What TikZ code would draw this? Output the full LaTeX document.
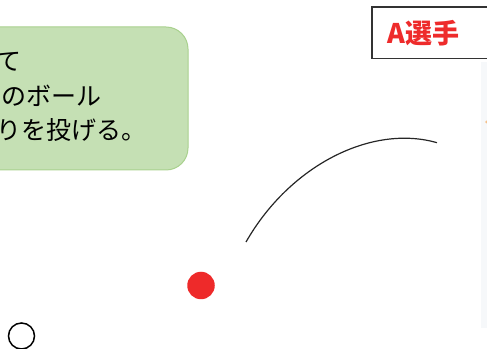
\documentclass[tikz,border=0pt]{standalone}
\usepackage{fontspec}
\newfontfamily\jp{Noto Sans CJK JP}
\definecolor{boxgreen}{HTML}{C5E0B4}
\definecolor{boxgreenline}{HTML}{A9D18E}
\definecolor{tred}{HTML}{EE2B2B}
\definecolor{dotred}{HTML}{EE2A2A}
\definecolor{frameline}{HTML}{333333}
\definecolor{faint}{HTML}{F6F8FA}
\definecolor{faintorange}{HTML}{F5C08A}
\tikzset{
  note/.style={draw=boxgreenline, fill=boxgreen, line width=1pt, rounded corners=22pt},
  notetext/.style={inner sep=0pt, anchor=base east, font=\jp\fontsize{25}{30}\selectfont, text=black},
  labelbox/.style={draw=frameline, fill=white, line width=1.5pt},
  labeltext/.style={inner sep=0pt, anchor=base west, font=\jp\bfseries\fontsize{27}{32}\selectfont, text=tred},
  trajectory/.style={draw=black!85, line width=1.2pt},
}
\begin{document}
\begin{tikzpicture}[x=1pt,y=1pt]
\useasboundingbox (0,0) rectangle (487,348);
% faint panel on right edge
\fill[faint] (481,20) rectangle (500,286);
\fill[faintorange] (486.5,226) circle (1.5);
% green note
\path[note] (-40,178) rectangle (188,321);
\node[notetext] (l1) at (22,277.5) {て};
\node[notetext] (l2) at (102,242.5) {のボール};
\node[notetext] (l3) at (147,208.5) {りを投げる。};
% A player label
\path[labelbox] (372,289.5) rectangle (520,341);
\node[labeltext] (lab) at (387,304.5) {A選手};
% trajectory
\coordinate (s) at (246,106);
\coordinate (e) at (437,205.3);
\draw[trajectory] (s) .. controls (290,183) and (372,224) .. (e);
% ball
\node[circle, fill=dotred, minimum size=27.5pt, inner sep=0pt] (ball) at (201,62.5) {};
% hollow circle
\node[circle, draw=black, line width=1.5pt, minimum size=26pt, inner sep=0pt] (ring) at (21.5,12) {};
\end{tikzpicture}
\end{document}
